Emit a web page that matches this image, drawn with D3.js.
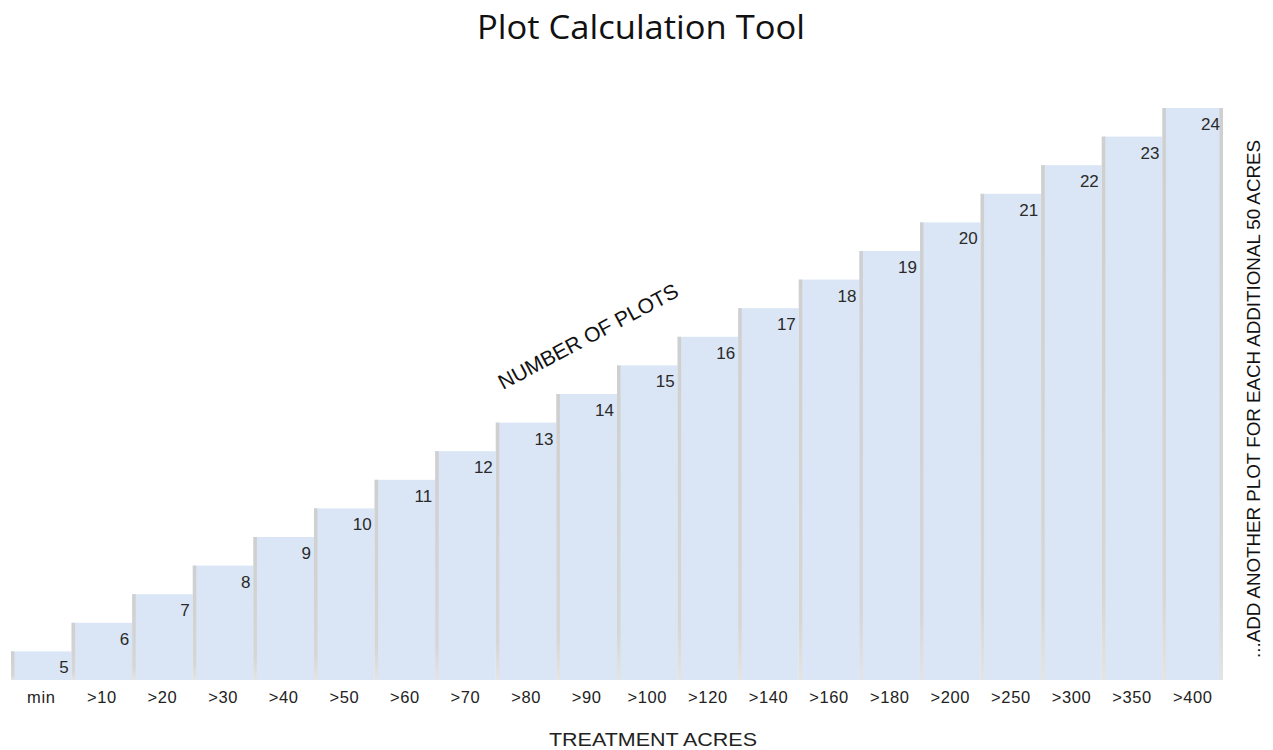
<!DOCTYPE html>
<html>
<head>
<meta charset="utf-8">
<script src="https://cdn.jsdelivr.net/npm/d3@7"></script>
<style>
  html, body { margin: 0; padding: 0; background: #ffffff; }
  svg { display: block; }
</style>
</head>
<body>
<svg id="chart" width="1273" height="750"></svg>
<script>
// Treatment acreage brackets and the number of plots required for each
const categories = ["min", ">10", ">20", ">30", ">40", ">50", ">60", ">70", ">80", ">90",
                    ">100", ">120", ">140", ">160", ">180", ">200", ">250", ">300", ">350", ">400"];
const plotCounts = [5, 6, 7, 8, 9, 10, 11, 12, 13, 14, 15, 16, 17, 18, 19, 20, 21, 22, 23, 24];

const titleText = "Plot Calculation Tool";
const xTitle = "TREATMENT ACRES";
const seriesLabel = "NUMBER OF PLOTS";
const sideNote = "...ADD ANOTHER PLOT FOR EACH ADDITIONAL 50 ACRES";

const svg = d3.select("#chart");
const plot = { left: 11, right: 1223, top: 108, bottom: 680 };
const sans = "'Liberation Sans', Arial, sans-serif";

const x = d3.scaleBand().domain(categories).range([plot.left, plot.right]).padding(0);
const y = d3.scaleLinear().domain([4, 24]).range([plot.bottom, plot.top]);

const data = categories.map((c, i) => ({ cat: c, value: plotCounts[i], last: i === categories.length - 1 }));

// soft grey edge shading on each step
const defs = svg.append("defs");
const grad = defs.append("linearGradient").attr("id", "edge").attr("x1", 0).attr("y1", 0).attr("x2", 0).attr("y2", 1);
grad.append("stop").attr("offset", "0%").attr("stop-color", "#cfcfcf");
grad.append("stop").attr("offset", "85%").attr("stop-color", "#d6d6d6");
grad.append("stop").attr("offset", "100%").attr("stop-color", "#e4e4e4");

// title
svg.append("text")
  .attr("x", 641).attr("y", 39)
  .attr("text-anchor", "middle")
  .attr("font-family", "'Open Sans', 'Noto Sans', sans-serif")
  .attr("font-size", 32)
  .attr("textLength", 328)
  .attr("lengthAdjust", "spacingAndGlyphs")
  .attr("fill", "#111")
  .text(titleText);

const bars = svg.append("g").selectAll("g").data(data).join("g");

bars.append("rect")
  .attr("x", d => x(d.cat))
  .attr("y", d => y(d.value))
  .attr("width", x.bandwidth())
  .attr("height", d => plot.bottom - y(d.value))
  .attr("fill", "#dae6f5");

bars.append("rect")
  .attr("x", d => x(d.cat))
  .attr("y", d => y(d.value))
  .attr("width", 3.5)
  .attr("height", d => plot.bottom - y(d.value))
  .attr("fill", "url(#edge)");

bars.filter(d => d.last).append("rect")
  .attr("x", d => x(d.cat) + x.bandwidth() - 3.5)
  .attr("y", d => y(d.value))
  .attr("width", 3.5)
  .attr("height", d => plot.bottom - y(d.value))
  .attr("fill", "url(#edge)");

// value labels tucked into the top-right corner of each step
bars.append("text")
  .attr("x", d => x(d.cat) + x.bandwidth() - 3)
  .attr("y", d => y(d.value) + 22)
  .attr("text-anchor", "end")
  .attr("font-family", sans)
  .attr("font-size", 17)
  .attr("fill", "#2a2a2a")
  .text(d => d.value);

// category axis (labels only)
const xAxis = svg.append("g")
  .attr("transform", `translate(0,${plot.bottom})`)
  .call(d3.axisBottom(x).tickSize(0).tickPadding(11.5));
xAxis.select(".domain").remove();
xAxis.selectAll("text")
  .attr("font-family", sans)
  .attr("font-size", 16.5)
  .attr("letter-spacing", 0.6)
  .attr("fill", "#222");

// axis title
svg.append("text")
  .attr("x", 653).attr("y", 746)
  .attr("text-anchor", "middle")
  .attr("font-family", sans)
  .attr("font-size", 18)
  .attr("textLength", 208)
  .attr("lengthAdjust", "spacingAndGlyphs")
  .attr("fill", "#222")
  .text(xTitle);

// slanted series label running along the staircase
svg.append("text")
  .attr("transform", "translate(589,338) rotate(-28)")
  .attr("text-anchor", "middle")
  .attr("dominant-baseline", "middle")
  .attr("font-family", sans)
  .attr("font-size", 21)
  .attr("fill", "#111")
  .text(seriesLabel);

// note on the right edge
svg.append("text")
  .attr("transform", "translate(1260,399) rotate(-90)")
  .attr("text-anchor", "middle")
  .attr("font-family", sans)
  .attr("font-size", 18.5)
  .attr("textLength", 518)
  .attr("lengthAdjust", "spacingAndGlyphs")
  .attr("fill", "#111")
  .text(sideNote);
</script>
</body>
</html>
